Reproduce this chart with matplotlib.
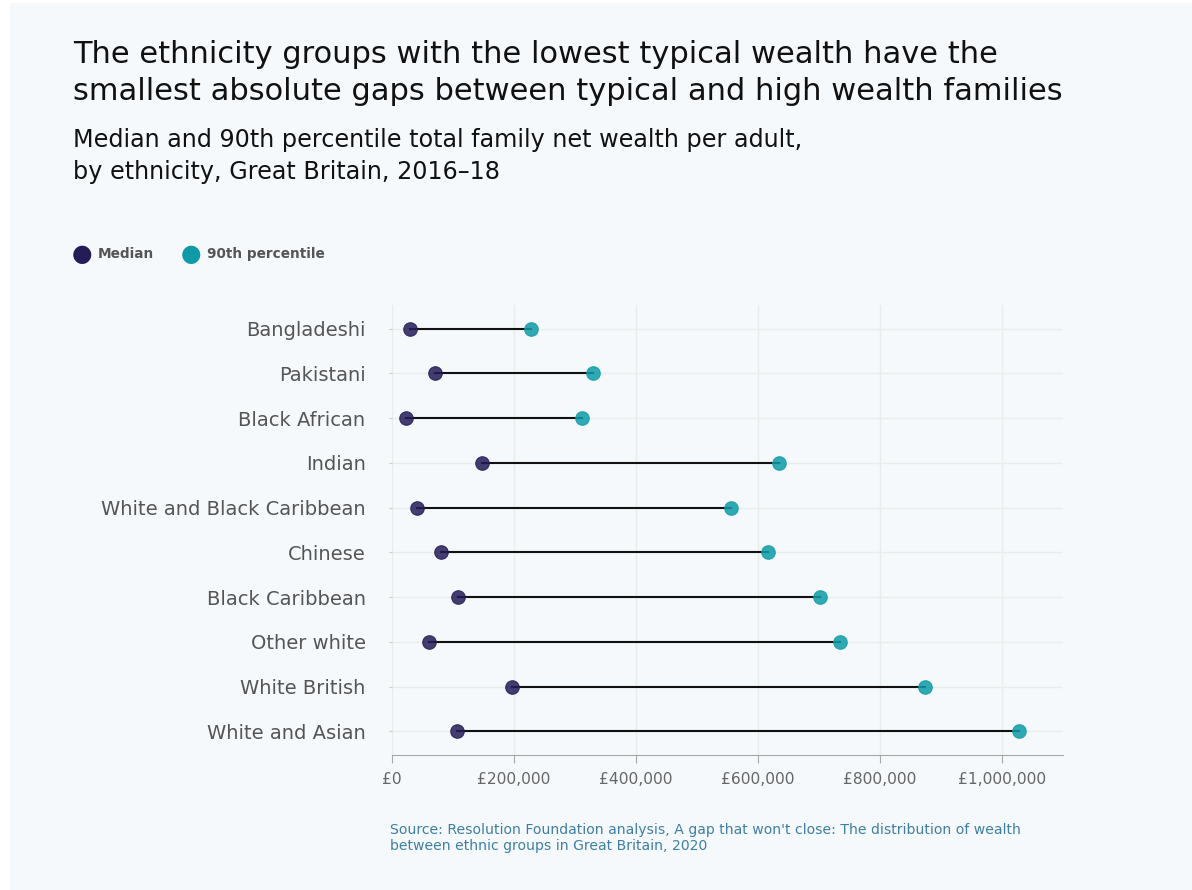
import matplotlib
matplotlib.use('Agg')
import matplotlib.pyplot as plt
from matplotlib.patches import Rectangle
from matplotlib.ticker import FuncFormatter

groups = ['Bangladeshi', 'Pakistani', 'Black African', 'Indian',
          'White and Black Caribbean', 'Chinese', 'Black Caribbean',
          'Other white', 'White British', 'White and Asian']
median = [30000, 70000, 23000, 148000, 41000, 80000, 109000, 61000, 196000, 106000]
p90 = [228000, 329000, 311000, 634000, 555000, 616000, 702000, 735000, 874000, 1028000]
xticks = [0, 200000, 400000, 600000, 800000, 1000000]

plt.rcParams['font.family'] = ['DejaVu Sans']

bg = '#f5f9fc'
c_med = '#241c57'
c_p90 = '#0e9ba7'

fig = plt.figure(figsize=(11.92, 8.9), dpi=100)
fig.patch.set_facecolor('white')
fig.patches.append(Rectangle((10/1192, 0), 1 - 10/1192, 1 - 3/890,
                             transform=fig.transFigure, facecolor=bg,
                             edgecolor='none', zorder=-10))

ax = fig.add_axes([392/1192, (890-755)/890, 671/1192, 450/890])
ax.set_facecolor(bg)

y = list(range(len(groups)))
for i in y:
    ax.plot([median[i], p90[i]], [i, i], color='#111111', lw=1.5, zorder=2)
ax.scatter(median, y, s=95, color=c_med, alpha=0.85, edgecolor=c_med,
           linewidth=0.8, zorder=3)
ax.scatter(p90, y, s=95, color=c_p90, alpha=0.85, edgecolor=c_p90,
           linewidth=0.8, zorder=3)

ax.set_xlim(0, 1100000)
ax.set_ylim(len(groups) - 0.47, -0.53)
ax.set_yticks(y)
ax.set_yticklabels(groups)
ax.set_xticks(xticks)
ax.xaxis.set_major_formatter(FuncFormatter(lambda v, p: '£{:,.0f}'.format(v)))
ax.grid(True, color='#e9ede9', lw=1)
ax.set_axisbelow(True)
for s in ['left', 'top', 'right']:
    ax.spines[s].set_visible(False)
ax.spines['bottom'].set_color('#a8a8a8')
ax.tick_params(axis='y', length=2, color='#cccccc', labelsize=14,
               labelcolor='#555555', pad=17)
ax.tick_params(axis='x', length=6, color='#a8a8a8', labelsize=11.2,
               labelcolor='#666666', pad=6)

fig.text(73/1192, 1 - 40/890, 'The ethnicity groups with the lowest typical wealth have the\n'
         'smallest absolute gaps between typical and high wealth families',
         fontsize=22, color='#111111', va='top', ha='left', linespacing=1.36)
fig.text(73/1192, 1 - 128/890, 'Median and 90th percentile total family net wealth per adult,\n'
         'by ethnicity, Great Britain, 2016\u201318',
         fontsize=17.2, color='#111111', va='top', ha='left', linespacing=1.42)

# legend
fig.text(82/1192, 1 - 254/890, '\u25cf', fontsize=17, color=c_med, ha='center', va='center')
fig.text(98/1192, 1 - 254/890, 'Median', fontsize=9.8, fontweight='bold',
         color='#555555', ha='left', va='center')
fig.text(191/1192, 1 - 254/890, '\u25cf', fontsize=17, color=c_p90, ha='center', va='center')
fig.text(207/1192, 1 - 254/890, '90th percentile', fontsize=9.8, fontweight='bold',
         color='#555555', ha='left', va='center')

fig.text(390/1192, 1 - 823/890, "Source: Resolution Foundation analysis, A gap that won't close: "
         "The distribution of wealth\nbetween ethnic groups in Great Britain, 2020",
         fontsize=10.1, color='#3f7fa3', ha='left', va='top', linespacing=1.15)

fig.savefig('out.png', dpi=100, facecolor=fig.get_facecolor())
